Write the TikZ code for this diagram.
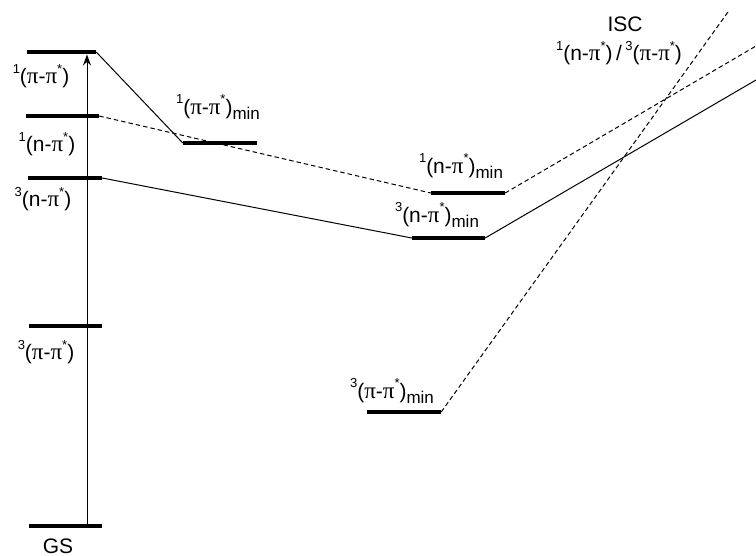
\documentclass[tikz,border=0pt]{standalone}
\usepackage{fontspec}
\setmainfont{Liberation Sans}
\newfontfamily\grkfont{Liberation Serif}
\usetikzlibrary{arrows.meta}

% Greek pi, superscript and subscript helpers
\newcommand{\pic}{{\grkfont\fontsize{23}{23}\selectfont π}}
\newcommand{\up}[1]{\raisebox{0.5em}{\fontsize{13}{13}\selectfont #1}}
\newcommand{\dn}[1]{\raisebox{-0.22em}{\fontsize{17}{17}\selectfont #1}}
\newcommand{\pipi}{(\pic-\pic\up{*})}
\newcommand{\npi}{(n-\pic\up{*})}

\tikzset{
  level/.style={fill=black, inner sep=0pt, minimum height=4.5pt, minimum width=74pt, draw=none},
  lbl/.style={inner sep=0pt, font=\fontsize{21}{23}\selectfont},
  link/.style={line width=1pt},
  dlink/.style={line width=1pt, dash pattern=on 4.5pt off 3pt},
}

\begin{document}
\begin{tikzpicture}[x=1pt,y=-1pt]
\useasboundingbox (0,0) rectangle (756,556);

% energy levels
\node[level, minimum width=69pt] (s1pp) at (61.5,52) {};
\node[level, minimum width=73pt] (s1np) at (62.5,116) {};
\node[level] (t1np) at (65,178) {};
\node[level, minimum width=73pt] (t1pp) at (65.5,326) {};
\node[level, minimum width=73pt] (gs) at (65.5,526) {};
\node[level] (s1ppmin) at (220,143) {};
\node[level] (s1npmin) at (468,193) {};
\node[level, minimum width=73pt] (t1npmin) at (448.5,238) {};
\node[level] (t1ppmin) at (404,412) {};

% free ends past the crossing
\coordinate (endA) at (756,46);
\coordinate (endB) at (756,80);
\coordinate (endC) at (728,12);
\coordinate (ax) at (87,0);

% excitation arrow
\draw[link, -{Stealth[length=11pt,width=8pt]}] (gs.center -| ax) -- (s1pp.south -| ax);

% relaxation paths
\draw[link] (s1pp.east) -- (s1ppmin.west);
\draw[dlink] (s1np.east) -- (s1npmin.west);
\draw[link] (t1np.east) -- (t1npmin.west);
\draw[dlink] (s1npmin.east) -- (endA);
\draw[link] (t1npmin.east) -- (endB);
\draw[dlink] (t1ppmin.east) -- (endC);

% labels
\node[lbl] (l1) at (41,76) {\up{1}\pipi};
\node[lbl] (l2) at (47,144) {\up{1}\npi};
\node[lbl] (l3) at (43,199) {\up{3}\npi};
\node[lbl] (l4) at (46,352) {\up{3}\pipi};
\node[lbl, anchor=base] (l5) at (58,553) {GS};
\node[lbl] (l6) at (218,107) {\up{1}\pipi\dn{min}};
\node[lbl] (l7) at (461,166) {\up{1}\npi\dn{min}};
\node[lbl] (l8) at (437,215) {\up{3}\npi\dn{min}};
\node[lbl] (l9) at (392,391) {\up{3}\pipi\dn{min}};
\node[lbl] (l10) at (625,24) {ISC};
\node[lbl] (l11) at (619,53) {\up{1}\npi\,/\,\up{3}\pipi};
\end{tikzpicture}
\end{document}
